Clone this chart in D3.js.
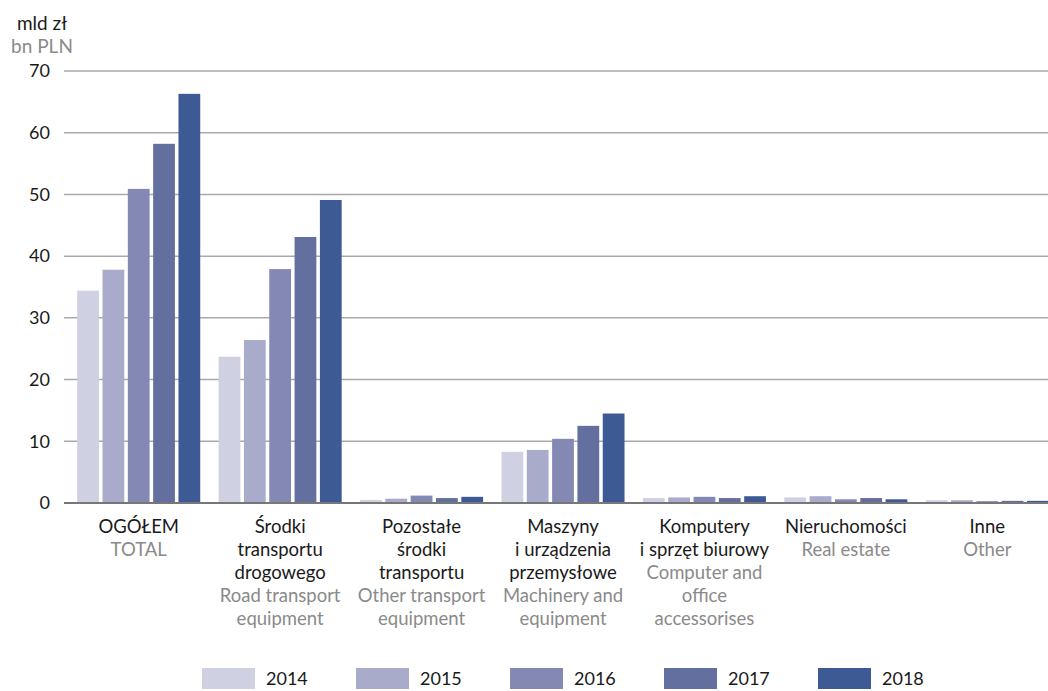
<!DOCTYPE html>
<html>
<head>
<meta charset="utf-8">
<script src="https://cdn.jsdelivr.net/npm/d3@7"></script>
<style>
  body { margin: 0; background: #fff; }
  svg { font-family: Lato, "Noto Sans", sans-serif; }
</style>
</head>
<body>
<svg id="chart" width="1048" height="691"></svg>
<script>
const years = ["2014", "2015", "2016", "2017", "2018"];
const colors = ["#cfd1e3", "#a8acca", "#8489b4", "#636f9f", "#3e5a94"];

const categoriesPl = [
  ["OGÓŁEM"],
  ["Środki", "transportu", "drogowego"],
  ["Pozostałe", "środki", "transportu"],
  ["Maszyny", "i urządzenia", "przemysłowe"],
  ["Komputery", "i sprzęt biurowy"],
  ["Nieruchomości"],
  ["Inne"]
];
const categoriesEn = [
  ["TOTAL"],
  ["Road transport", "equipment"],
  ["Other transport", "equipment"],
  ["Machinery and", "equipment"],
  ["Computer and", "office", "accessorises"],
  ["Real estate"],
  ["Other"]
];

// values per category, 2014..2018
const v2014 = [34.4, 23.7, 0.5, 8.3, 0.8, 0.9, 0.45];
const v2015 = [37.8, 26.4, 0.7, 8.6, 0.9, 1.1, 0.45];
const v2016 = [50.9, 37.9, 1.2, 10.4, 1.0, 0.6, 0.3];
const v2017 = [58.2, 43.1, 0.8, 12.5, 0.8, 0.8, 0.35];
const v2018 = [66.3, 49.1, 1.0, 14.5, 1.1, 0.6, 0.35];
const series = [v2014, v2015, v2016, v2017, v2018];

const yTicks = [0, 10, 20, 30, 40, 50, 60, 70];

const svg = d3.select("#chart");

const x0 = d3.scaleBand()
  .domain(d3.range(categoriesPl.length))
  .range([68, 1058])
  .paddingInner(0.13)
  .paddingOuter(0.065);

const x1 = d3.scaleBand()
  .domain(d3.range(years.length))
  .range([0, x0.bandwidth()])
  .paddingInner(0.14);

const y = d3.scaleLinear().domain([0, 70]).range([503, 71]);

// gridlines
const grid = svg.append("g");
grid.selectAll("line")
  .data(yTicks.filter(d => d > 0))
  .enter()
  .append("line")
  .attr("x1", 64)
  .attr("x2", 1048)
  .attr("y1", d => y(d))
  .attr("y2", d => y(d))
  .attr("stroke", "#a9a9a9")
  .attr("stroke-width", 1.5);

// y tick labels
svg.append("g")
  .selectAll("text")
  .data(yTicks)
  .enter()
  .append("text")
  .attr("x", 50)
  .attr("y", d => y(d))
  .attr("dy", "0.35em")
  .attr("text-anchor", "end")
  .attr("font-size", 18)
  .attr("fill", "#1a1a1a")
  .text(d => d);

// unit labels
svg.append("text")
  .attr("x", 42).attr("y", 30)
  .attr("text-anchor", "middle")
  .attr("font-size", 19)
  .attr("fill", "#1a1a1a")
  .text("mld zł");
svg.append("text")
  .attr("x", 42).attr("y", 53)
  .attr("text-anchor", "middle")
  .attr("font-size", 19)
  .attr("fill", "#8a8a8a")
  .text("bn PLN");

// bars
const groups = svg.append("g")
  .selectAll("g")
  .data(categoriesPl.map((c, i) => i))
  .enter()
  .append("g")
  .attr("transform", i => "translate(" + x0(i) + ",0)");

groups.selectAll("rect")
  .data(i => series.map((s, k) => ({ k: k, v: s[i] })))
  .enter()
  .append("rect")
  .attr("x", d => x1(d.k))
  .attr("width", x1.bandwidth())
  .attr("y", d => y(d.v))
  .attr("height", d => y(0) - y(d.v))
  .attr("fill", d => colors[d.k]);

// baseline
svg.append("line")
  .attr("x1", 64).attr("x2", 1048)
  .attr("y1", y(0)).attr("y2", y(0))
  .attr("stroke", "#777")
  .attr("stroke-width", 2);

// category labels
const lineH = 23;
const labels = svg.append("g")
  .selectAll("text")
  .data(categoriesPl.map((c, i) => i))
  .enter()
  .append("text")
  .attr("text-anchor", "middle")
  .attr("font-size", 18.5)
  .attr("transform", i => "translate(" + (x0(i) + x0.bandwidth() / 2) + ",533)");

labels.each(function (i) {
  const el = d3.select(this);
  const lines = categoriesPl[i].map(t => ({ t: t, en: false }))
    .concat(categoriesEn[i].map(t => ({ t: t, en: true })));
  lines.forEach((l, j) => {
    el.append("tspan")
      .attr("x", 0)
      .attr("y", j * lineH)
      .attr("fill", l.en ? "#8a8a8a" : "#1a1a1a")
      .text(l.t);
  });
});

// legend
const legend = svg.append("g")
  .selectAll("g")
  .data(years)
  .enter()
  .append("g")
  .attr("transform", (d, i) => "translate(" + (202 + i * 154) + ",668)");

legend.append("rect")
  .attr("width", 53)
  .attr("height", 21)
  .attr("fill", (d, i) => colors[i]);

legend.append("text")
  .attr("x", 64)
  .attr("y", 11)
  .attr("dy", "0.35em")
  .attr("font-size", 18)
  .attr("fill", "#1a1a1a")
  .text(d => d);
</script>
</body>
</html>
